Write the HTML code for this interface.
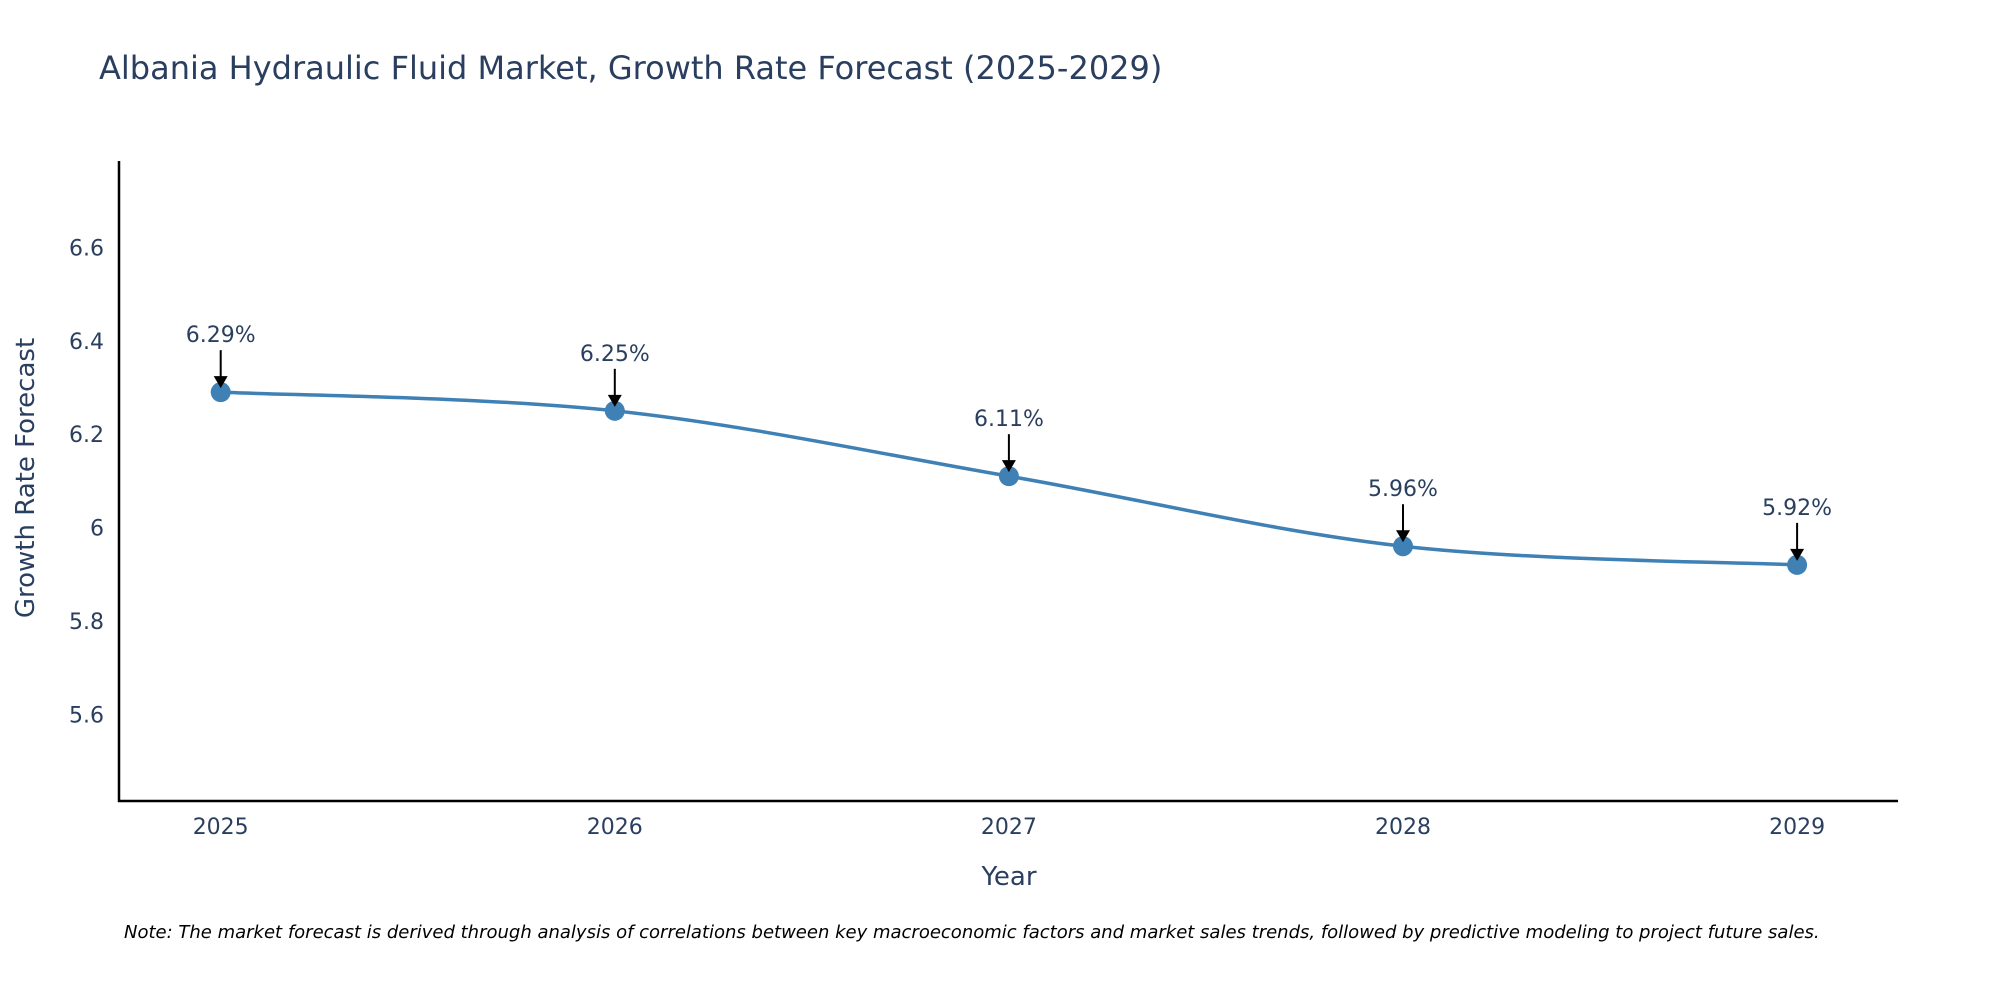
<!DOCTYPE html>
<html><head><meta charset="utf-8">
<style>
body{margin:0;background:#fff;}
svg{display:block;font-family:"DejaVu Sans","Liberation Sans",sans-serif;}
</style></head>
<body>
<svg id="chart" width="2000" height="1000" viewBox="0 0 2000 1000">
<text x="99" y="79" font-size="32" fill="#2a3f5f">Albania Hydraulic Fluid Market, Growth Rate Forecast (2025-2029)</text>
<g id="yticks"></g>
<g id="xticks"></g>
<line x1="119" y1="161" x2="119" y2="802" stroke="#000" stroke-width="2.5"/>
<line x1="118" y1="801" x2="1898" y2="801" stroke="#000" stroke-width="2.5"/>
<path id="line" fill="none" stroke="#3f80b5" stroke-width="3.5"/>
<g id="points"></g>
<g id="annots"></g>
<text x="1009" y="885" font-size="26" fill="#2a3f5f" text-anchor="middle">Year</text>
<text x="0" y="0" font-size="26" fill="#2a3f5f" text-anchor="middle" transform="translate(34,478) rotate(-90)">Growth Rate Forecast</text>
<text x="124" y="938" font-size="18" font-style="italic" fill="#000">Note: The market forecast is derived through analysis of correlations between key macroeconomic factors and market sales trends, followed by predictive modeling to project future sales.</text>
</svg>
<script>
const years=[2025,2026,2027,2028,2029];
const values=[6.29,6.25,6.11,5.96,5.92];
const labels=["6.29%","6.25%","6.11%","5.96%","5.92%"];
const yTicks=[5.6,5.8,6,6.2,6.4,6.6];
const yTickLabels=["5.6","5.8","6","6.2","6.4","6.6"];
const NS="http://www.w3.org/2000/svg";
const xS=v=>220.7+(v-2025)*394.1;
const yS=v=>714.3-(v-5.6)*466.9;
function mk(tag,attrs,parent){const e=document.createElementNS(NS,tag);for(const k in attrs)e.setAttribute(k,attrs[k]);parent.appendChild(e);return e;}
const yg=document.getElementById('yticks');
yTicks.forEach((t,i)=>{const e=mk('text',{x:104,y:yS(t)+8,'font-size':22,fill:'#2a3f5f','text-anchor':'end'},yg);


e.textContent=yTickLabels[i];});
const xg=document.getElementById('xticks');
years.forEach(y=>{const e=mk('text',{x:xS(y),y:834,'font-size':22,fill:'#2a3f5f','text-anchor':'middle'},xg);


e.textContent=y;});
const P=years.map((y,i)=>[xS(y),yS(values[i])]);
let d=`M${P[0][0]},${P[0][1]}`;
for(let i=0;i<P.length-1;i++){const p0=P[Math.max(i-1,0)],p1=P[i],p2=P[i+1],p3=P[Math.min(i+2,P.length-1)];
d+=` C${p1[0]+(p2[0]-p0[0])/6},${p1[1]+(p2[1]-p0[1])/6} ${p2[0]-(p3[0]-p1[0])/6},${p2[1]-(p3[1]-p1[1])/6} ${p2[0]},${p2[1]}`;}
document.getElementById('line').setAttribute('d',d);
const pg=document.getElementById('points'),ag=document.getElementById('annots');
P.forEach((p,i)=>{const c=mk('circle',{cx:p[0],cy:p[1],r:10,fill:'#3f80b5'},pg);


const l=mk('line',{x1:p[0],y1:p[1]-42,x2:p[0],y2:p[1]-14,stroke:'#000','stroke-width':2},ag);


const h=mk('path',{d:`M${p[0]-7},${p[1]-16} L${p[0]+7},${p[1]-16} L${p[0]},${p[1]-4} Z`,fill:'#000'},ag);


const t=mk('text',{x:p[0],y:p[1]-50,'font-size':22,fill:'#2a3f5f','text-anchor':'middle'},ag);


t.textContent=labels[i];});
</script>
</body></html>
